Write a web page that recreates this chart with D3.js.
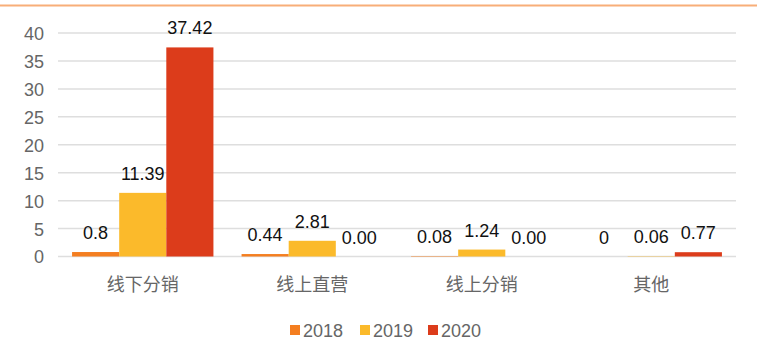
<!DOCTYPE html>
<html>
<head>
<meta charset="utf-8">
<script src="https://cdn.jsdelivr.net/npm/d3@7"></script>
<style>
  body { margin: 0; background: #fff; }
  svg { display: block; font-family: "Liberation Sans", Arial, "Noto Sans CJK SC", sans-serif; }
</style>
</head>
<body>
<div id="chart"></div>
<script>
const categories = ['线下分销', '线上直营', '线上分销', '其他'];
const years = ['2018', '2019', '2020'];
const values2018 = [0.8, 0.44, 0.08, 0];
const values2019 = [11.39, 2.81, 1.24, 0.06];
const values2020 = [37.42, 0, 0, 0.77];
const labels2018 = ['0.8', '0.44', '0.08', '0'];
const labels2019 = ['11.39', '2.81', '1.24', '0.06'];
const labels2020 = ['37.42', '0.00', '0.00', '0.77'];
const yTicks = [0, 5, 10, 15, 20, 25, 30, 35, 40];
const colors = ['#F47E20', '#FBBA2B', '#DC3C1B'];

const width = 757, height = 352;
const padding = {top: 33, right: 21, bottom: 95, left: 58};

const series = [values2018, values2019, values2020];
const seriesLabels = [labels2018, labels2019, labels2020];

const svg = d3.select('#chart').append('svg')
    .attr('width', width)
    .attr('height', height);

// orange line along the top
svg.append('line')
    .attr('x1', 0).attr('x2', width)
    .attr('y1', 5.5).attr('y2', 5.5)
    .attr('stroke', '#F8AE78')
    .attr('stroke-width', 2);

const x = d3.scaleBand()
    .domain(categories)
    .range([padding.left, width - padding.right])
    .paddingInner(0.166)
    .paddingOuter(0.083);

const xInner = d3.scaleBand()
    .domain(years)
    .range([0, x.bandwidth()]);

const y = d3.scaleLinear()
    .domain([0, 40])
    .range([height - padding.bottom - 0.5, padding.top]);

// gridlines
svg.append('g')
    .selectAll('line')
    .data(yTicks)
    .join('line')
    .attr('x1', padding.left)
    .attr('x2', width - padding.right)
    .attr('y1', d => y(d))
    .attr('y2', d => y(d))
    .attr('stroke', '#DEDEDE')
    .attr('stroke-width', 1.5);

// y axis labels
const yAxis = d3.axisLeft(y).tickValues(yTicks).tickSize(0).tickPadding(0);
const gy = svg.append('g')
    .attr('transform', `translate(${padding.left - 14},0)`)
    .call(yAxis);
gy.select('.domain').remove();
gy.selectAll('text')
    .attr('fill', '#666')
    .attr('font-size', 18)
    .attr('dy', '0.36em');

// x axis labels
const xAxis = d3.axisBottom(x).tickSize(0).tickPadding(0);
const gx = svg.append('g')
    .attr('transform', `translate(0,${height - padding.bottom})`)
    .call(xAxis);
gx.select('.domain').remove();
gx.selectAll('text')
    .attr('fill', '#666')
    .attr('font-size', 18)
    .attr('font-family', '"Noto Sans CJK SC", sans-serif')
    .attr('y', 0)
    .attr('dy', 34);

// bars
years.forEach(function (yr, si) {
    const g = svg.append('g');
    g.selectAll('rect')
        .data(categories)
        .join('rect')
        .attr('x', d => x(d) + xInner(yr))
        .attr('width', xInner.bandwidth())
        .attr('y', (d, i) => y(series[si][i]))
        .attr('height', (d, i) => y(0) - y(series[si][i]))
        .attr('fill', colors[si]);

    g.selectAll('text')
        .data(categories)
        .join('text')
        .attr('x', d => x(d) + xInner(yr) + xInner.bandwidth() / 2)
        .attr('y', (d, i) => y(series[si][i]) - 13)
        .attr('text-anchor', 'middle')
        .attr('font-size', 18)
        .attr('fill', '#111')
        .text((d, i) => seriesLabels[si][i]);
});

// legend
const legendX = [290, 360, 428];
const legend = svg.append('g');
years.forEach(function (yr, i) {
    legend.append('rect')
        .attr('x', legendX[i])
        .attr('y', 325)
        .attr('width', 10)
        .attr('height', 10)
        .attr('fill', colors[i]);
    legend.append('text')
        .attr('x', legendX[i] + 13)
        .attr('y', 337)
        .attr('font-size', 18)
        .attr('fill', '#666')
        .text(yr);
});
</script>
</body>
</html>
